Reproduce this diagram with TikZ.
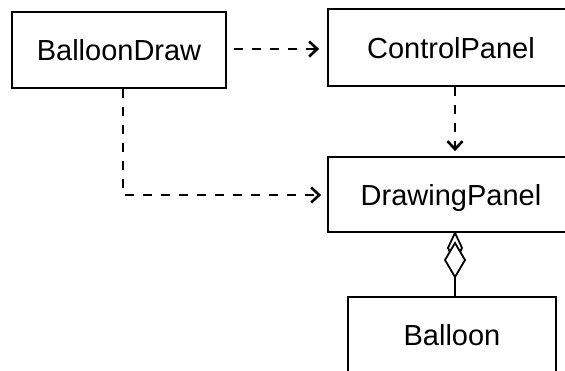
\documentclass[tikz,border=0pt]{standalone}
\usepackage{fontspec}
\setmainfont{Liberation Sans}
\usetikzlibrary{arrows.meta}
\begin{document}
\begin{tikzpicture}[x=1pt,y=-1pt,
  cls/.style={draw,line width=1.8pt,rectangle,inner sep=0pt,
    font=\fontsize{29}{34}\selectfont,text depth=0pt},
  dep/.style={line width=2.6pt,dash pattern=on 9pt off 9pt,
    -{Straight Barb[length=8pt,width=15pt,line width=2.6pt]}},
  agg/.style={line width=1.8pt,line join=miter}]
\useasboundingbox (0,0) rectangle (565,371);
\clip (0,0) rectangle (565,371);
\node[cls,minimum width=214pt,minimum height=76pt] (bd) at (119,50) {BalloonDraw};
\node[cls,minimum width=246pt,minimum height=77pt] (cp) at (451,47.5) {ControlPanel};
\node[cls,minimum width=246pt,minimum height=75pt] (dp) at (451,194.5) {DrawingPanel};
\node[cls,minimum width=208pt,minimum height=76pt] (bl) at (452,335) {Balloon};
\coordinate (ax) at (455,0);
\coordinate (lx) at (123,0);
% dependencies
\draw[dep,shorten <=7pt,shorten >=8pt] (bd.east |- 0,49) -- (cp.west |- 0,49);
\draw[dep,shorten >=5pt] (cp.south -| ax) -- (dp.north -| ax);
\draw[dep,shorten >=6pt] (bd.south -| lx) |- (dp.west |- 0,195);
% aggregation
\coordinate (d1t) at (dp.south -| ax);
\coordinate (d2b) at (455,277);
\draw[agg,fill=white] (d1t) -- ++(7,15) -- ++(-7,15) -- ++(-7,-15) -- cycle;
\draw[agg,fill=white] (455,243) -- ++(10,17) -- (d2b) -- ++(-10,-17) -- cycle;
\draw[agg] (d2b) -- (bl.north -| ax);
\end{tikzpicture}
\end{document}
